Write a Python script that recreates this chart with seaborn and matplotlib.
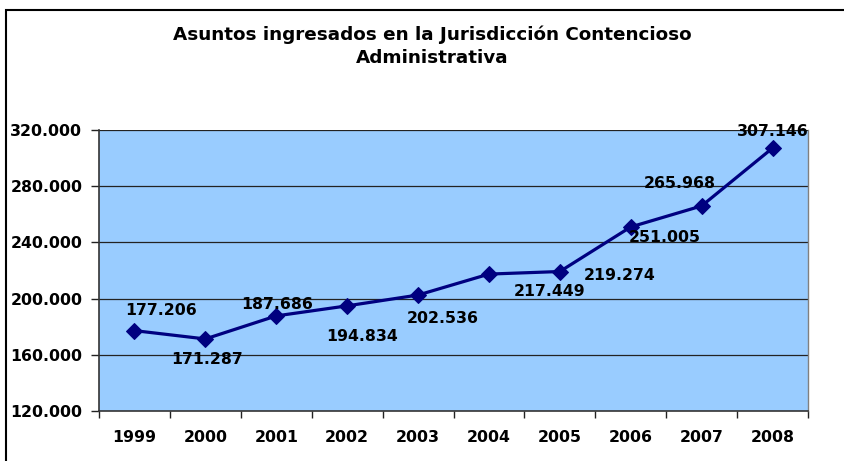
import matplotlib
matplotlib.use("Agg")
import matplotlib.pyplot as plt
import seaborn as sns
import pandas as pd
from matplotlib.ticker import FuncFormatter, FixedLocator
from matplotlib.patches import Rectangle

years = ["1999", "2000", "2001", "2002", "2003", "2004", "2005", "2006", "2007", "2008"]
asuntos = [177206, 171287, 187686, 194834, 202536, 217449, 219274, 251005, 265968, 307146]
y_ticks = [120000, 160000, 200000, 240000, 280000, 320000]
title = "Asuntos ingresados en la Jurisdicción Contencioso\nAdministrativa"

# label offsets in pixels (dx, dy) relative to each point
label_offsets = [(27, 20), (2, -21), (1, 11), (15, -31), (25, -23),
                 (61, -17), (60, -4), (34, -11), (-22, 22), (0, 17)]

sns.set_theme(style="white")
plt.rcParams["font.family"] = ["DejaVu Sans"]

def fmt(v, pos=None):
    return f"{int(round(v)):,}".replace(",", ".")

df = pd.DataFrame({"pos": list(range(len(years))), "year": years, "val": asuntos})

fig = plt.figure(figsize=(8.44, 4.61), dpi=100)
fig.patch.set_facecolor("white")
ax = fig.add_axes([99/844, 1-411/461, (808-99)/844, (411-130)/461])
ax.set_facecolor("#99CCFF")

for t in y_ticks[1:]:
    ax.axhline(t, color="#222222", lw=0.9, zorder=1)

sns.lineplot(data=df, x="pos", y="val", ax=ax, color="#000080", lw=2.3,
             marker="D", markersize=8.5, markeredgecolor="#000080",
             markerfacecolor="#000080", zorder=3)

FS = 11.3
ax.set_xlim(-0.5, len(years) - 0.5)
ax.set_ylim(y_ticks[0], y_ticks[-1])
ax.yaxis.set_major_locator(FixedLocator(y_ticks))
ax.yaxis.set_major_formatter(FuncFormatter(fmt))
ax.set_xticks(range(len(years)))
ax.set_xticklabels(years)
ax.xaxis.set_minor_locator(FixedLocator([i - 0.5 for i in range(len(years) + 1)]))
ax.tick_params(axis="x", which="major", length=0, pad=14, labelsize=FS)
ax.tick_params(axis="x", which="minor", length=5, width=1, color="#222222", direction="out", bottom=True)
ax.tick_params(axis="y", which="major", length=6, width=1, color="#222222", direction="out", left=True, pad=6, labelsize=FS)
for lab in ax.get_xticklabels() + ax.get_yticklabels():
    lab.set_fontweight("bold")
    lab.set_color("black")
ax.set_xlabel("")
ax.set_ylabel("")

for side in ["left", "bottom"]:
    ax.spines[side].set_color("#333333")
    ax.spines[side].set_linewidth(1.2)
ax.spines["right"].set_color("#808080")
ax.spines["right"].set_linewidth(1.0)
ax.spines["top"].set_visible(False)

for i, v in enumerate(asuntos):
    dx, dy = label_offsets[i]
    ax.annotate(fmt(v), (i, v), xytext=(dx, dy), textcoords="offset pixels",
                ha="center", va="center", fontsize=FS, fontweight="bold",
                color="black", zorder=4)

fig.text(432/844, 1-46/461, title, ha="center", va="center", fontsize=13.2,
         fontweight="bold", linespacing=1.35, color="black")

fig.add_artist(Rectangle((6/844, -0.1), 1.2, 1 - 10/461 + 0.1, transform=fig.transFigure,
                         fill=False, edgecolor="black", lw=1.5))

fig.savefig("out.png", dpi=100, facecolor="white")
